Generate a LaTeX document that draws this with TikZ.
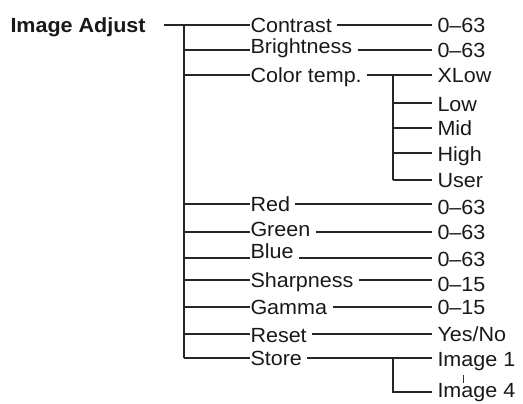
\documentclass[tikz,border=0pt]{standalone}
\usepackage{fontspec}
\setmainfont{Liberation Sans}[FakeStretch=1.05]
\begin{document}
\begin{tikzpicture}[x=1pt,y=1pt,
  ink/.style={draw=black!85, line width=1.8pt},
  lab/.style={anchor=west, inner xsep=0.5pt, inner ysep=0pt, outer sep=0pt,
    text height=14.7pt, text depth=0pt, text=black!90,
    font=\fontsize{20.5}{24}\selectfont},
  gapL/.style={xshift=5pt}, gapR/.style={xshift=-5pt}]
\useasboundingbox (0,0) rectangle (523,-404);
% root
\node[lab, font=\bfseries\fontsize{20.5}{24}\selectfont] (root) at (10,-25) {Image Adjust};
% labels
\node[lab] (con) at (250,-25) {Contrast};
\node[lab] (bri) at (250,-46) {Brightness};
\node[lab] (ct) at (250,-75) {Color temp.};
\node[lab] (red) at (250,-204) {Red};
\node[lab] (gre) at (250,-229) {Green};
\node[lab] (blu) at (250,-251) {Blue};
\node[lab] (sha) at (250,-280) {Sharpness};
\node[lab] (gam) at (250,-307) {Gamma};
\node[lab] (res) at (250,-335) {Reset};
\node[lab] (sto) at (250,-358) {Store};
% values
\node[lab] (vcon) at (437,-25) {0--63};
\node[lab] (vbri) at (437,-50) {0--63};
\node[lab] (vxl) at (437,-75) {XLow};
\node[lab] (vlow) at (437,-104) {Low};
\node[lab] (vmid) at (437,-128) {Mid};
\node[lab] (vhig) at (437,-154) {High};
\node[lab] (vuse) at (437,-180) {User};
\node[lab] (vred) at (437,-207) {0--63};
\node[lab] (vgre) at (437,-232) {0--63};
\node[lab] (vblu) at (437,-259) {0--63};
\node[lab] (vsha) at (437,-284) {0--15};
\node[lab] (vgam) at (437,-307) {0--15};
\node[lab] (vres) at (437,-334) {Yes/No};
\node[lab] (vi1) at (437,-359) {Image 1};
\node[lab] (vi4) at (437,-390.5) {Image 4};
% trunk joints
\coordinate (tcon) at (184,-25);
\coordinate (tbri) at (184,-50);
\coordinate (tct) at (184,-75);
\coordinate (tred) at (184,-204);
\coordinate (tgre) at (184,-232);
\coordinate (tblu) at (184,-258);
\coordinate (tsha) at (184,-280);
\coordinate (tgam) at (184,-307);
\coordinate (tres) at (184,-334);
\coordinate (tsto) at (184,-358);
% sub joints
\coordinate (sct) at (393,-75);
\coordinate (slow) at (393,-103);
\coordinate (smid) at (393,-128);
\coordinate (shig) at (393,-153);
\coordinate (suse) at (393,-180);
\coordinate (ssto) at (393,-358);
\coordinate (si4) at (393,-392);
% root line and trunk
\draw[ink] ([xshift=18pt]root.east) -- (con.west);
\draw[ink] (tcon) -- (tsto);
% branches to labels
\foreach \t/\l in {tcon/con,tbri/bri,tct/ct,tred/red,tgre/gre,tblu/blu,tsha/sha,tgam/gam,tres/res,tsto/sto}
  \draw[ink] (\t) -- (\t -| \l.west);
% label to value lines
\foreach \t/\l/\v in {tcon/con/vcon,tbri/bri/vbri,tct/ct/vxl,tred/red/vred,tgre/gre/vgre,tblu/blu/vblu,tsha/sha/vsha,tgam/gam/vgam,tres/res/vres,tsto/sto/vi1}
  \draw[ink] ([gapL]\t -| \l.east) -- ([gapR]\t -| \v.west);
% colour temp sub tree
\draw[ink] (sct) -- (suse);
\foreach \s/\v in {slow/vlow,smid/vmid,shig/vhig,suse/vuse}
  \draw[ink] (\s) -- ([gapR]\s -| \v.west);
% store sub tree
\draw[ink] (ssto) -- (si4) -- ([gapR]si4 -| vi4.west);
% small range tick
\coordinate (tk1) at (463,-375);
\coordinate (tk2) at (463,-383);
\draw[draw=black!80, line width=0.8pt] (tk1) -- (tk2);
\end{tikzpicture}
\end{document}
